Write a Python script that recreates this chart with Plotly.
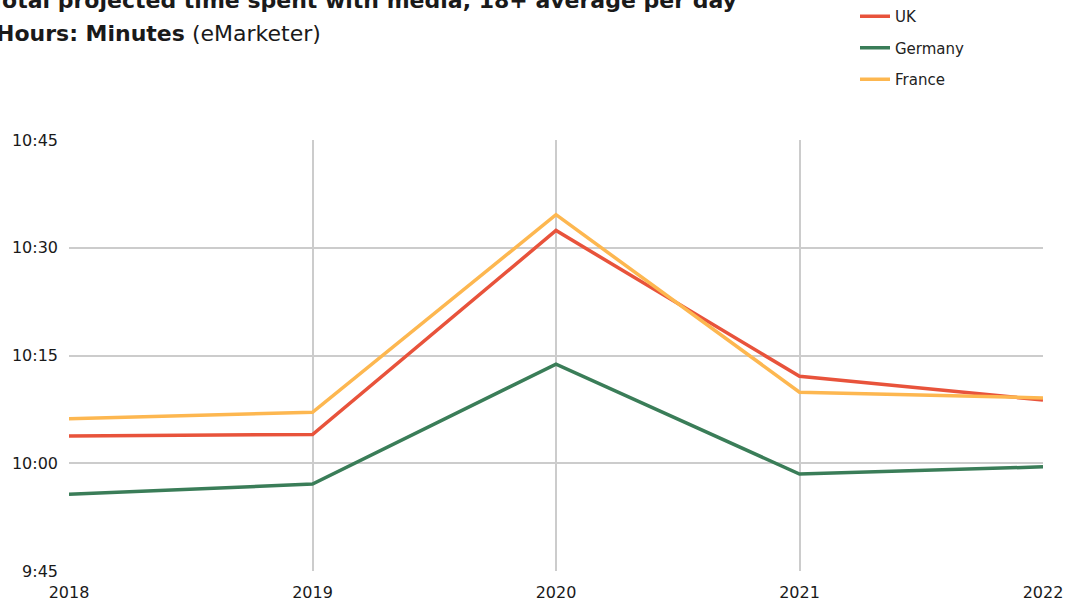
import plotly.graph_objects as go

# Average daily time spent with media, adults 18+, in minutes since midnight
years = [2018, 2019, 2020, 2021, 2022]
uk = [603.8, 604.0, 632.4, 612.1, 608.8]
germany = [595.7, 597.1, 613.8, 598.5, 599.5]
france = [606.2, 607.1, 634.6, 609.9, 609.1]

y_tick_vals = [585, 600, 615, 630, 645]
y_tick_text = ["9:45", "10:00", "10:15", "10:30", "10:45"]

series = [
    ("UK", uk, "#E8533B"),
    ("Germany", germany, "#3A7D58"),
    ("France", france, "#FDB750"),
]

FONT = "DejaVu Sans"
W, H = 1068, 602
ML, MR, MT, MB = 69, 25, 140, 31
PW = W - ML - MR
PH = H - MT - MB

fig = go.Figure()
for name, vals, color in series:
    fig.add_trace(go.Scatter(
        x=years, y=vals, name=name, mode="lines",
        line=dict(color=color, width=3.5),
        legendgroup=name,
    ))

def px_x(p):
    return (p - ML) / PW

def px_y(p):
    return (H - MB - p) / PH

fig.update_layout(
    width=W, height=H,
    margin=dict(l=ML, r=MR, t=MT, b=MB, autoexpand=False),
    paper_bgcolor="white", plot_bgcolor="white",
    font=dict(family=FONT, color="#1a1a1a"),
    showlegend=True,
    legend=dict(
        x=px_x(855), y=px_y(0), xanchor="left", yanchor="top",
        font=dict(size=15, color="#222222"),
        tracegroupgap=9,
        itemwidth=30,
        bgcolor="rgba(0,0,0,0)",
    ),
    xaxis=dict(
        range=[2018, 2022],
        tickvals=years, ticktext=[str(y) for y in years],
        showgrid=True, gridcolor="#cccccc", gridwidth=2,
        zeroline=False, showline=False, automargin=False,
        tickfont=dict(size=16, color="#1a1a1a"),
        ticks="", ticklabelstandoff=10,
    ),
    yaxis=dict(
        range=[585, 645],
        tickvals=y_tick_vals, ticktext=y_tick_text,
        showgrid=True, gridcolor="#cccccc", gridwidth=2,
        zeroline=False, showline=False, automargin=False,
        tickfont=dict(size=16, color="#1a1a1a"),
        ticks="", ticklabelstandoff=10,
    ),
    annotations=[
        dict(
            text="<b>Total projected time spent with media, 18+ average per day</b>",
            xref="paper", yref="paper", x=px_x(-12), y=px_y(0),
            xanchor="left", yanchor="middle", showarrow=False,
            font=dict(size=22, color="#1a1a1a", family=FONT),
        ),
        dict(
            text="<b>Hours: Minutes</b> (eMarketer)",
            xref="paper", yref="paper", x=px_x(-6), y=px_y(33),
            xanchor="left", yanchor="middle", showarrow=False,
            font=dict(size=22, color="#1a1a1a", family=FONT),
        ),
    ],
)

fig.write_html("out.html")
